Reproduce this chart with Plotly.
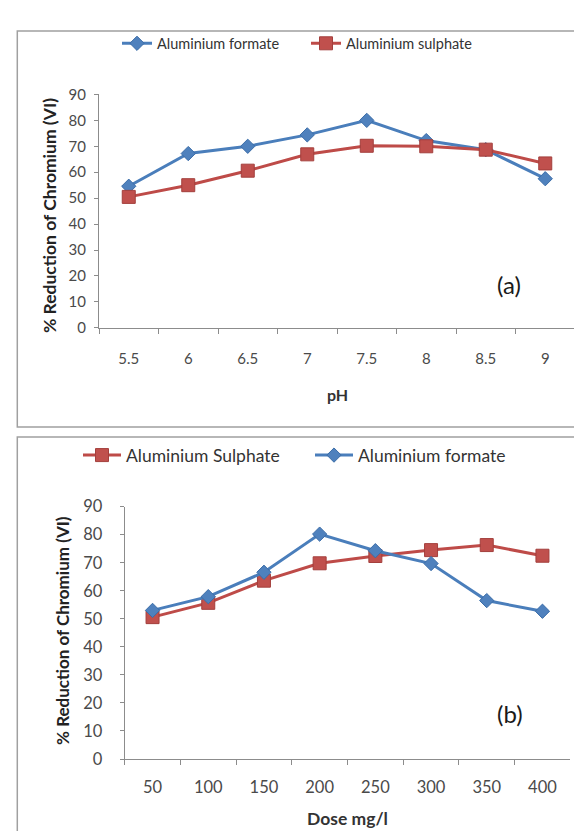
import plotly.graph_objects as go

# ---- data ----
ph_labels = ["5.5", "6", "6.5", "7", "7.5", "8", "8.5", "9"]
ph_formate = [54.6, 67.2, 70.0, 74.4, 80.0, 72.2, 68.7, 57.5]
ph_sulphate = [50.5, 55.0, 60.6, 66.9, 70.2, 70.0, 68.7, 63.4]

dose_labels = ["50", "100", "150", "200", "250", "300", "350", "400"]
dose_sulphate = [50.6, 55.7, 63.6, 69.8, 72.4, 74.5, 76.3, 72.5]
dose_formate = [53.0, 57.9, 66.6, 80.2, 74.3, 69.7, 56.5, 52.7]

y_ticks = [0, 10, 20, 30, 40, 50, 60, 70, 80, 90]

W, H = 582, 831
def px(x):
    return x / W
def py(y):
    return 1 - y / H

BLUE_LINE = "#4A7EBB"
BLUE_MK = "#4F81BD"
RED_LINE = "#BE4B48"
RED_MK = "#C0504D"
FONT = "Lato"
TICK_COLOR = "#4a4a4a"
AXIS_COLOR = "#8C8C8C"

fig = go.Figure()

def formate_trace(x, y, xa, ya, legend):
    return go.Scatter(x=x, y=y, mode="lines+markers", name="Aluminium formate",
                      line=dict(color=BLUE_LINE, width=3),
                      marker=dict(symbol="diamond", size=11, color=BLUE_MK,
                                  line=dict(color="#3B6DA8", width=1)),
                      xaxis=xa, yaxis=ya, legend=legend)

def sulphate_trace(x, y, xa, ya, legend, name):
    return go.Scatter(x=x, y=y, mode="lines+markers", name=name,
                      line=dict(color=RED_LINE, width=3),
                      marker=dict(symbol="square", size=13, color=RED_MK,
                                  line=dict(color="#A33F3C", width=1)),
                      xaxis=xa, yaxis=ya, legend=legend)

# panel (a)
fig.add_trace(formate_trace(ph_labels, ph_formate, "x", "y", "legend"))
fig.add_trace(sulphate_trace(ph_labels, ph_sulphate, "x", "y", "legend", "Aluminium sulphate"))
# panel (b)
fig.add_trace(sulphate_trace(dose_labels, dose_sulphate, "x2", "y2", "legend2", "Aluminium Sulphate"))
fig.add_trace(formate_trace(dose_labels, dose_formate, "x2", "y2", "legend2"))

def xaxis_style(size):
    return dict(type="category", range=[-0.5, 7.5], tickson="boundaries",
                ticks="outside", ticklen=5, tickcolor=AXIS_COLOR,
                showline=True, linecolor=AXIS_COLOR, linewidth=1,
                showgrid=False, zeroline=False,
                tickfont=dict(family=FONT, size=size, color=TICK_COLOR))

def yaxis_style(size):
    return dict(range=[0, 90], tickvals=y_ticks, ticks="outside", ticklen=4,
                tickcolor=AXIS_COLOR, showline=True, linecolor=AXIS_COLOR,
                linewidth=1, showgrid=False, zeroline=False,
                tickfont=dict(family=FONT, size=size, color=TICK_COLOR))

fig.update_layout(
    width=W, height=H,
    margin=dict(l=0, r=0, t=0, b=0),
    paper_bgcolor="white", plot_bgcolor="white",
    xaxis=dict(domain=[px(91), px(567)], anchor="y", ticklabelstandoff=17, **xaxis_style(15)),
    yaxis=dict(domain=[py(317.5), py(78.3)], anchor="x", ticklabelstandoff=5, **yaxis_style(15)),
    xaxis2=dict(domain=[px(116.7), px(562.3)], anchor="y2", ticklabelstandoff=13, **xaxis_style(16.5)),
    yaxis2=dict(domain=[py(759.3), py(500.7)], anchor="x2", ticklabelstandoff=14, **yaxis_style(16.5)),
    legend=dict(orientation="h", x=px(109), y=py(26), xanchor="left", yanchor="middle",
                font=dict(family=FONT, size=14.5, color="#333333"),
                bgcolor="rgba(0,0,0,0)", itemwidth=30, entrywidth=144, entrywidthmode="pixels"),
    legend2=dict(orientation="h", x=px(70), y=py(448), xanchor="left", yanchor="middle",
                 font=dict(family=FONT, size=17.5, color="#333333"),
                 bgcolor="rgba(0,0,0,0)", itemwidth=38, entrywidth=179, entrywidthmode="pixels"),
    showlegend=True,
)

# panel borders
for (y0, y1) in [(13.3, 419), (429.3, 845)]:
    fig.add_shape(type="rect", xref="paper", yref="paper",
                  x0=px(9.3), x1=px(595), y0=py(y1), y1=py(y0),
                  line=dict(color="#A0A0A0", width=1.5), fillcolor="rgba(0,0,0,0)",
                  layer="below")

ytitle = "<b>% Reduction of Chromium (VI)</b>"
ann = [
    dict(text=ytitle, x=px(41), y=py(203), textangle=-90,
         font=dict(family=FONT, size=17.5, color="#222222")),
    dict(text=ytitle, x=px(55), y=py(628), textangle=-90,
         font=dict(family=FONT, size=17, color="#222222")),
    dict(text="<b>pH</b>", x=px(329), y=py(386), font=dict(family=FONT, size=16, color="#333333")),
    dict(text="<b>Dose mg/l</b>", x=px(339), y=py(820), font=dict(family=FONT, size=17.5, color="#333333")),
    dict(text="(a)", x=px(501), y=py(273), font=dict(family=FONT, size=24, color="#1a1a1a")),
    dict(text="(b)", x=px(502), y=py(713), font=dict(family=FONT, size=24, color="#1a1a1a")),
]
for a in ann:
    fig.add_annotation(xref="paper", yref="paper", showarrow=False,
                       xanchor="center", yanchor="middle", **a)

fig.write_html("out.html")
